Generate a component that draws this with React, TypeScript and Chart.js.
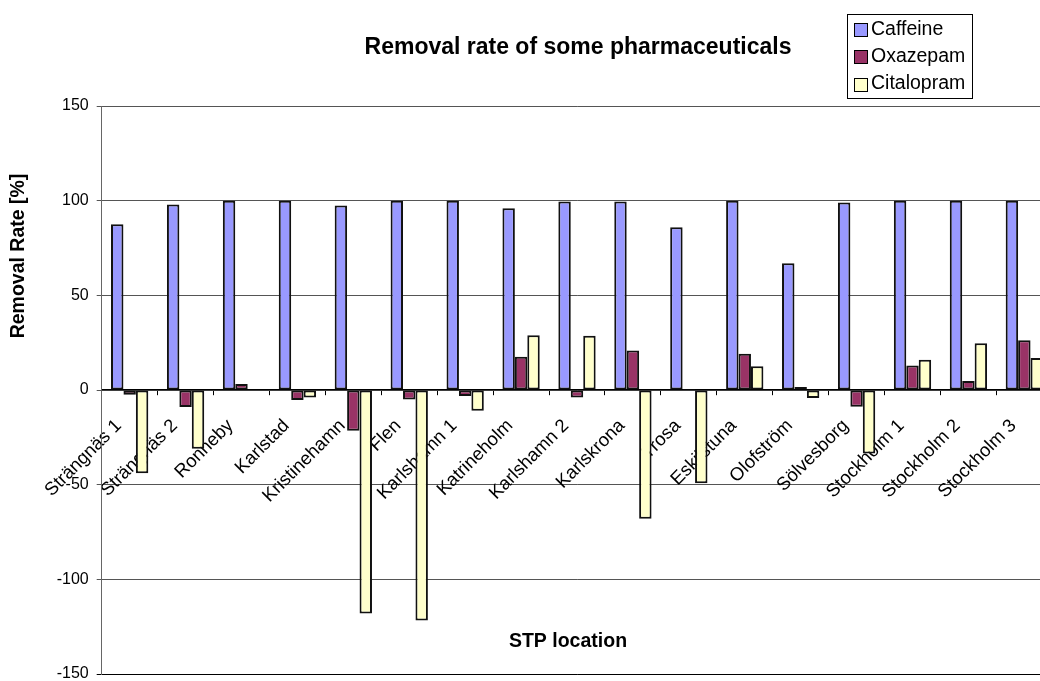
import React, { useEffect, useRef } from "react";
import { Chart, registerables } from "chart.js";

Chart.register(...registerables);

const categories = [
  "Strängnäs 1", "Strängnäs 2", "Ronneby", "Karlstad", "Kristinehamn", "Flen",
  "Karlshamn 1", "Katrineholm", "Karlshamn 2", "Karlskrona", "Trosa", "Eskilstuna",
  "Olofström", "Sölvesborg", "Stockholm 1", "Stockholm 2", "Stockholm 3",
];
const caffeine = [87.5, 98, 100, 100, 97.5, 100, 100, 96, 99.5, 99.5, 86, 100, 67, 99, 100, 100, 100];
const oxazepam = [-2.5, -9, 3.2, -5.3, -21.5, -5, -3.2, 17.6, -4, 20.8, 0.5, 19.2, 1.6, -8.8, 12.9, 4.8, 26.3];
const citalopram = [-44, -31, 0, -4, -118, -121.7, -10.9, 28.9, 28.6, -68, -49.2, 12.5, -4.2, -33.5, 16, 24.7, 16.9];
const seriesNames = ["Caffeine", "Oxazepam", "Citalopram"];
const seriesColors = ["#9999FF", "#993366", "#FFFFCC"];
const titleText = "Removal rate of some pharmaceuticals";
const yTitleText = "Removal Rate [%]";
const xTitleText = "STP location";

const FONT = "'Liberation Sans', Arial, sans-serif";

const extrasPlugin = {
  id: "extras",
  afterDraw(chart: any) {
    const ctx = chart.ctx;
    ctx.save();
    ctx.fillStyle = "#000";
    // main title
    ctx.font = `bold 23px ${FONT}`;
    ctx.textAlign = "center";
    ctx.textBaseline = "middle";
    ctx.fillText(titleText, 578, 48);
    // x title
    ctx.font = `bold 19.5px ${FONT}`;
    ctx.fillText(xTitleText, 568, 642);
    // y title
    ctx.save();
    ctx.translate(19, 256);
    ctx.rotate(-Math.PI / 2);
    ctx.fillText(yTitleText, 0, 0);
    ctx.restore();
    // legend
    ctx.strokeStyle = "#000";
    ctx.lineWidth = 1;
    ctx.fillStyle = "#fff";
    ctx.fillRect(847.5, 14.5, 125, 84);
    ctx.strokeRect(847.5, 14.5, 125, 84);
    const rows = [29.5, 56.5, 84];
    ctx.font = `19.5px ${FONT}`;
    ctx.textAlign = "left";
    for (let i = 0; i < seriesNames.length; i++) {
      const cy = rows[i];
      ctx.fillStyle = seriesColors[i];
      ctx.fillRect(854.5, Math.round(cy - 6.5) + 0.5, 13, 13);
      ctx.strokeRect(854.5, Math.round(cy - 6.5) + 0.5, 13, 13);
      ctx.fillStyle = "#000";
      ctx.fillText(seriesNames[i], 871, cy);
    }
    ctx.restore();
  },
};

export default function App() {
  const ref = useRef<HTMLCanvasElement | null>(null);
  useEffect(() => {
    if (!ref.current) return;
    const datasets = [caffeine, oxazepam, citalopram].map((d, i) => ({
      label: seriesNames[i],
      data: d,
      backgroundColor: seriesColors[i],
      borderColor: "#111",
      borderWidth: 2,
      borderSkipped: false as any,
      categoryPercentage: 0.667,
      barPercentage: 1.0,
    }));
    const chart = new Chart(ref.current, {
      type: "bar",
      data: { labels: categories, datasets },
      plugins: [extrasPlugin],
      options: {
        animation: false,
        responsive: false,
        devicePixelRatio: 1,
        layout: { padding: { left: 0, right: 7.7, top: 106, bottom: 7 } },
        plugins: {
          legend: { display: false },
          title: { display: false },
          tooltip: { enabled: false },
        },
        scales: {
          x: {
            type: "category",
            position: { y: 0 } as any,
            offset: true,
            grid: {
              offset: true,
              drawOnChartArea: false,
              drawTicks: true,
              tickLength: 5,
              color: "#000",
            },
            border: { display: true, color: "#000", width: 1.2 },
            ticks: {
              autoSkip: false,
              maxRotation: 45,
              minRotation: 45,
              color: "#000",
              padding: 20,
              labelOffset: -11,
              font: { family: FONT, size: 18.5 },
            },
            afterFit(scale: any) {
              scale.paddingLeft = 0;
              scale.paddingRight = 0;
            },
          },
          y: {
            min: -150,
            max: 150,
            ticks: {
              stepSize: 50,
              color: "#000",
              padding: 8,
              font: { family: FONT, size: 16 },
            },
            grid: {
              color: (c: any) => (c.tick && c.tick.value === -150 ? "#000" : "#555"),
              lineWidth: 1,
              tickLength: 5,
            },
            border: { display: true, color: "#666", width: 1 },
            afterFit(scale: any) {
              scale.width = 101.7;
              scale.paddingTop = 0;
              scale.paddingBottom = 0;
            },
          },
        },
      },
    });
    return () => chart.destroy();
  }, []);
  return (
    <div style={{ position: "fixed", left: 0, top: 0, width: 1040, height: 681, overflow: "hidden", background: "#fff" }}>
      <canvas ref={ref} width={1060} height={681} style={{ display: "block" }} />
    </div>
  );
}
